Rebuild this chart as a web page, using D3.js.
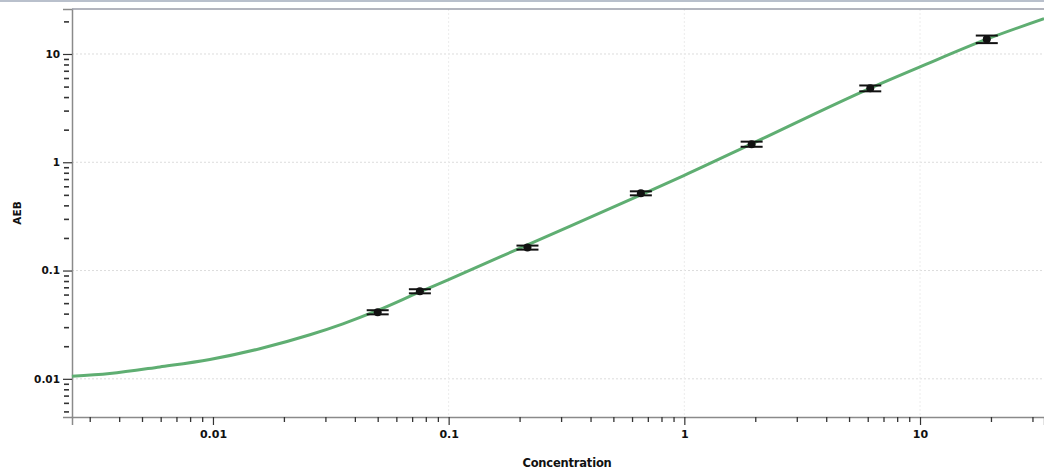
<!DOCTYPE html>
<html>
<head>
<meta charset="utf-8">
<script src="https://cdn.jsdelivr.net/npm/d3@7"></script>
<style>
  html, body { margin: 0; padding: 0; background: #ffffff; }
  svg { display: block; }
  text { font-family: "DejaVu Sans", Verdana, sans-serif; font-weight: bold; fill: #111; }
</style>
</head>
<body>
<svg id="chart" width="1044" height="474"></svg>
<script>
// ---- data ----
const concentration = [0.05, 0.0755, 0.216, 0.654, 1.93, 6.15, 19.2];
const aeb = [0.0412, 0.0644, 0.163, 0.517, 1.47, 4.82, 13.7];
const aebErr = [0.0018, 0.0028, 0.007, 0.022, 0.08, 0.3, 1.1];

const fitConc = [0.00252, 0.00365, 0.00595, 0.0097, 0.0158, 0.0258, 0.0356, 0.05, 0.0755, 0.1, 0.216, 0.654, 1, 1.93, 6.13, 10, 19.2, 33.6];
const fitAeb  = [0.01057, 0.01119, 0.01288, 0.01508, 0.01897, 0.0255, 0.0322, 0.0428, 0.0635, 0.0825, 0.173, 0.50, 0.758, 1.48, 4.82, 7.6, 13.7, 21.2];

const xTickValues = [0.01, 0.1, 1, 10];
const xTickLabels = ["0.01", "0.1", "1", "10"];
const yTickValues = [0.01, 0.1, 1, 10];
const yTickLabels = ["0.01", "0.1", "1", "10"];

const xTitle = "Concentration";
const yTitle = "AEB";

// ---- layout ----
const svg = d3.select("#chart");
const L = 72, R = 1044, T = 9, B = 417;

const x = d3.scaleLog().domain([0.002523, 33.58]).range([L, R]);
const y = d3.scaleLog().domain([0.00444, 26.03]).range([B, T]);

// top strip of the scan
svg.append("rect").attr("x", 0).attr("y", 0).attr("width", 1044).attr("height", 2).attr("fill", "#b9c0cc");

// gridlines
const grid = svg.append("g");
grid.selectAll("line.hg").data(yTickValues).join("line")
  .attr("x1", L).attr("x2", R).attr("y1", d => y(d)).attr("y2", d => y(d))
  .attr("stroke", "#dcdcdc").attr("stroke-width", 1).attr("stroke-dasharray", "2,2");
grid.selectAll("line.vg").data(xTickValues.filter(v => v > 0.05)).join("line")
  .attr("y1", T).attr("y2", B).attr("x1", d => x(d)).attr("x2", d => x(d))
  .attr("stroke", "#ececec").attr("stroke-width", 1).attr("stroke-dasharray", "2,2");

// minor tick values
function minors(lo, hi) {
  const out = [];
  for (let e = -3; e <= 2; e++) {
    for (let m = 2; m <= 9; m++) {
      const v = m * Math.pow(10, e);
      if (v > lo && v < hi) out.push(v);
    }
  }
  return out;
}

// x axis
const xAxisMajor = d3.axisBottom(x).tickValues(xTickValues).tickSize(8).tickPadding(5)
  .tickFormat((d, i) => xTickLabels[i]);
const gx = svg.append("g").attr("transform", `translate(0,${B})`).call(xAxisMajor);
gx.select(".domain").attr("stroke", "#8a8a8a").attr("stroke-width", 1.5);
gx.selectAll(".tick line").attr("stroke", "#333").attr("stroke-width", 1.2);
gx.selectAll(".tick text").attr("font-size", 11).attr("font-family", "DejaVu Sans, sans-serif").attr("font-weight", "bold").attr("fill", "#111");
const xAxisMinor = d3.axisBottom(x).tickValues(minors(x.domain()[0], x.domain()[1])).tickSize(5).tickFormat("");
const gxm = svg.append("g").attr("transform", `translate(0,${B})`).call(xAxisMinor);
gxm.select(".domain").remove();
gxm.selectAll(".tick line").attr("stroke", "#333").attr("stroke-width", 1.3);

// y axis
const yAxisMajor = d3.axisLeft(y).tickValues(yTickValues).tickSize(9).tickPadding(3)
  .tickFormat((d, i) => yTickLabels[i]);
const gy = svg.append("g").attr("transform", `translate(${L},0)`).call(yAxisMajor);
gy.select(".domain").attr("stroke", "#8a8a8a").attr("stroke-width", 1.5);
gy.selectAll(".tick line").attr("stroke", "#333").attr("stroke-width", 1.2);
gy.selectAll(".tick text").attr("font-size", 10.5).attr("font-family", "DejaVu Sans, sans-serif").attr("font-weight", "bold").attr("fill", "#111");
const yAxisMinor = d3.axisLeft(y).tickValues(minors(y.domain()[0], y.domain()[1])).tickSize(5).tickFormat("");
const gym = svg.append("g").attr("transform", `translate(${L - 3},0)`).call(yAxisMinor);
gym.select(".domain").remove();
gym.selectAll(".tick line").attr("stroke", "#333").attr("stroke-width", 1.6);

// top frame line
svg.append("line").attr("x1", L).attr("x2", R).attr("y1", T).attr("y2", T)
  .attr("stroke", "#9a9ca8").attr("stroke-width", 1.5);

// fitted curve
const fitData = fitConc.map((c, i) => [c, fitAeb[i]]);
svg.append("path").datum(fitData)
  .attr("fill", "none").attr("stroke", "#5fae72").attr("stroke-width", 3)
  .attr("d", d3.line().x(d => x(d[0])).y(d => y(d[1])).curve(d3.curveMonotoneX));

// error bars and points
const pts = concentration.map((c, i) => ({ c, v: aeb[i], e: aebErr[i] }));
const eb = svg.append("g").attr("stroke", "#111").attr("stroke-width", 2);
eb.selectAll("line.v").data(pts).join("line")
  .attr("x1", d => x(d.c)).attr("x2", d => x(d.c))
  .attr("y1", d => y(d.v + d.e)).attr("y2", d => y(d.v - d.e));
eb.selectAll("line.t").data(pts).join("line")
  .attr("x1", d => x(d.c) - 11).attr("x2", d => x(d.c) + 11)
  .attr("y1", d => y(d.v + d.e)).attr("y2", d => y(d.v + d.e));
eb.selectAll("line.b").data(pts).join("line")
  .attr("x1", d => x(d.c) - 11).attr("x2", d => x(d.c) + 11)
  .attr("y1", d => y(d.v - d.e)).attr("y2", d => y(d.v - d.e));
svg.append("g").selectAll("circle").data(pts).join("circle")
  .attr("cx", d => x(d.c)).attr("cy", d => y(d.v)).attr("r", 4).attr("fill", "#111");

// titles
svg.append("text").attr("x", 567).attr("y", 467).attr("text-anchor", "middle")
  .attr("font-size", 11.5).attr("letter-spacing", -0.2).text(xTitle);
svg.append("text").attr("transform", "translate(21,213) rotate(-90)").attr("text-anchor", "middle")
  .attr("font-size", 10.5).text(yTitle);
</script>
</body>
</html>
